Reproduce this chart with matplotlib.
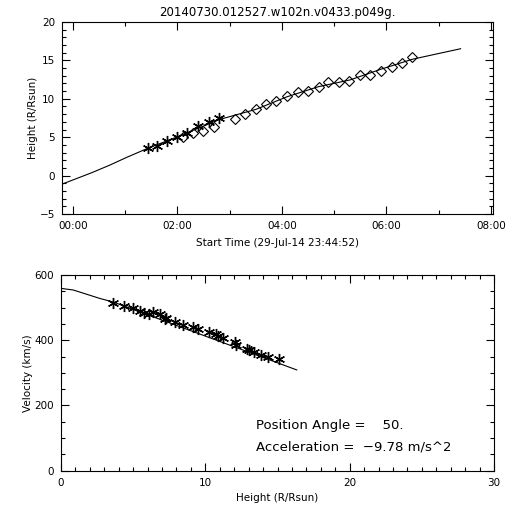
import numpy as np
import matplotlib
matplotlib.use("Agg")
import matplotlib.pyplot as plt
from matplotlib.ticker import MultipleLocator, FixedLocator

# top panel: height vs time (hours after 00:00 on 30-Jul-14)
star_t = [1.43, 1.61, 1.80, 2.00, 2.19, 2.40, 2.61, 2.80]
star_h = [3.55, 3.85, 4.47, 5.03, 5.51, 6.46, 6.98, 7.50]
diam_t = [2.11, 2.30, 2.49, 2.70, 3.10, 3.30, 3.50, 3.69, 3.89, 4.10, 4.30,
          4.50, 4.70, 4.89, 5.10, 5.29, 5.50, 5.69, 5.89, 6.10, 6.29, 6.49]
diam_h = [4.99, 5.51, 5.81, 6.29, 7.37, 7.98, 8.63, 9.28, 9.71, 10.36, 10.89,
          11.02, 11.49, 12.14, 12.14, 12.32, 13.06, 13.10, 13.58, 14.10, 14.62, 15.40]
fit_t = [-0.25, 0.36, 0.71, 1.03, 1.43, 2.00, 2.80, 3.50, 4.10, 4.70, 5.30, 5.89, 6.49, 7.42]
fit_h = [-1.22, 0.38, 1.38, 2.38, 3.55, 5.05, 7.30, 8.62, 10.27, 11.58, 12.45, 13.84, 15.14, 16.52]
time_ticks = [0, 2, 4, 6, 8]
time_labels = ["00:00", "02:00", "04:00", "06:00", "08:00"]

# bottom panel: velocity vs height
vel_h = [3.63, 4.37, 4.97, 5.47, 5.75, 6.12, 6.40, 6.86, 7.20, 7.25, 7.90, 8.45,
         9.17, 9.51, 10.28, 10.74, 10.90, 11.25, 12.06, 12.13, 12.87, 13.00,
         13.40, 13.86, 14.37, 15.13]
vel_v = [515, 506, 498, 490, 484, 479, 486, 479, 464, 469, 455, 447,
         440, 433, 425, 418, 414, 406, 396, 385, 373, 371,
         364, 355, 348, 341]
vfit_h = [0.0, 0.85, 2.7, 3.63, 16.33]
vfit_v = [559, 554, 528, 517, 309]

title = "20140730.012527.w102n.v0433.p049g."
pos_angle = "50."
accel = "-9.78"

plt.rcParams['font.family'] = ['DejaVu Sans']
plt.rcParams['axes.linewidth'] = 0.8

fig = plt.figure(figsize=(5.12, 5.12), dpi=100)

def style(ax):
    ax.tick_params(which='both', direction='in', top=True, right=True,
                   labelsize=7.5, width=0.8, pad=5, colors='black')
    ax.tick_params(which='major', length=6)
    ax.tick_params(which='minor', length=3)

ax1 = fig.add_axes([62/512, 1-214/512, 431/512, 192/512])
ax1.plot(fit_t, fit_h, color='black', lw=0.8)
ax1.plot(star_t, star_h, ls='none', marker=(6, 2, 0), ms=8, mew=1.0, color='black')
ax1.plot(diam_t, diam_h, ls='none', marker='D', ms=5, mfc='none', mew=0.8, color='black')
ax1.set_xlim(-0.21, 8.04)
ax1.set_ylim(-5, 20)
ax1.xaxis.set_major_locator(FixedLocator(time_ticks))
ax1.set_xticklabels(time_labels)
ax1.xaxis.set_minor_locator(MultipleLocator(1))
ax1.yaxis.set_major_locator(MultipleLocator(5))
ax1.yaxis.set_minor_locator(MultipleLocator(1))
style(ax1)
ax1.set_yticklabels([str(int(v)).replace('-', '\u2212') for v in ax1.get_yticks()])
ax1.set_ylabel("Height (R/Rsun)", fontsize=7.5, labelpad=1)
ax1.set_xlabel("Start Time (29-Jul-14 23:44:52)", fontsize=7.5, labelpad=5)
ax1.set_title(title, fontsize=8.5, pad=4)

ax2 = fig.add_axes([61/512, 1-470.7/512, 433/512, 195.7/512])
ax2.plot(vfit_h, vfit_v, color='black', lw=0.8)
ax2.plot(vel_h, vel_v, ls='none', marker=(6, 2, 0), ms=8, mew=1.0, color='black')
ax2.set_xlim(0, 30)
ax2.set_ylim(0, 600)
ax2.xaxis.set_major_locator(MultipleLocator(10))
ax2.xaxis.set_minor_locator(MultipleLocator(1))
ax2.yaxis.set_major_locator(MultipleLocator(200))
ax2.yaxis.set_minor_locator(MultipleLocator(50))
style(ax2)
ax2.set_ylabel("Velocity (km/s)", fontsize=7.5, labelpad=1)
ax2.set_xlabel("Height (R/Rsun)", fontsize=7.5, labelpad=4)
ax2.text(13.5, 138, "Position Angle =    " + pos_angle, fontsize=9.5, va='center', ha='left')
ax2.text(13.5, 73.6, "Acceleration =  " + accel.replace('-', '\u2212') + " m/s^2",
         fontsize=9.5, va='center', ha='left')

fig.savefig("out.png", dpi=100, facecolor='white')
